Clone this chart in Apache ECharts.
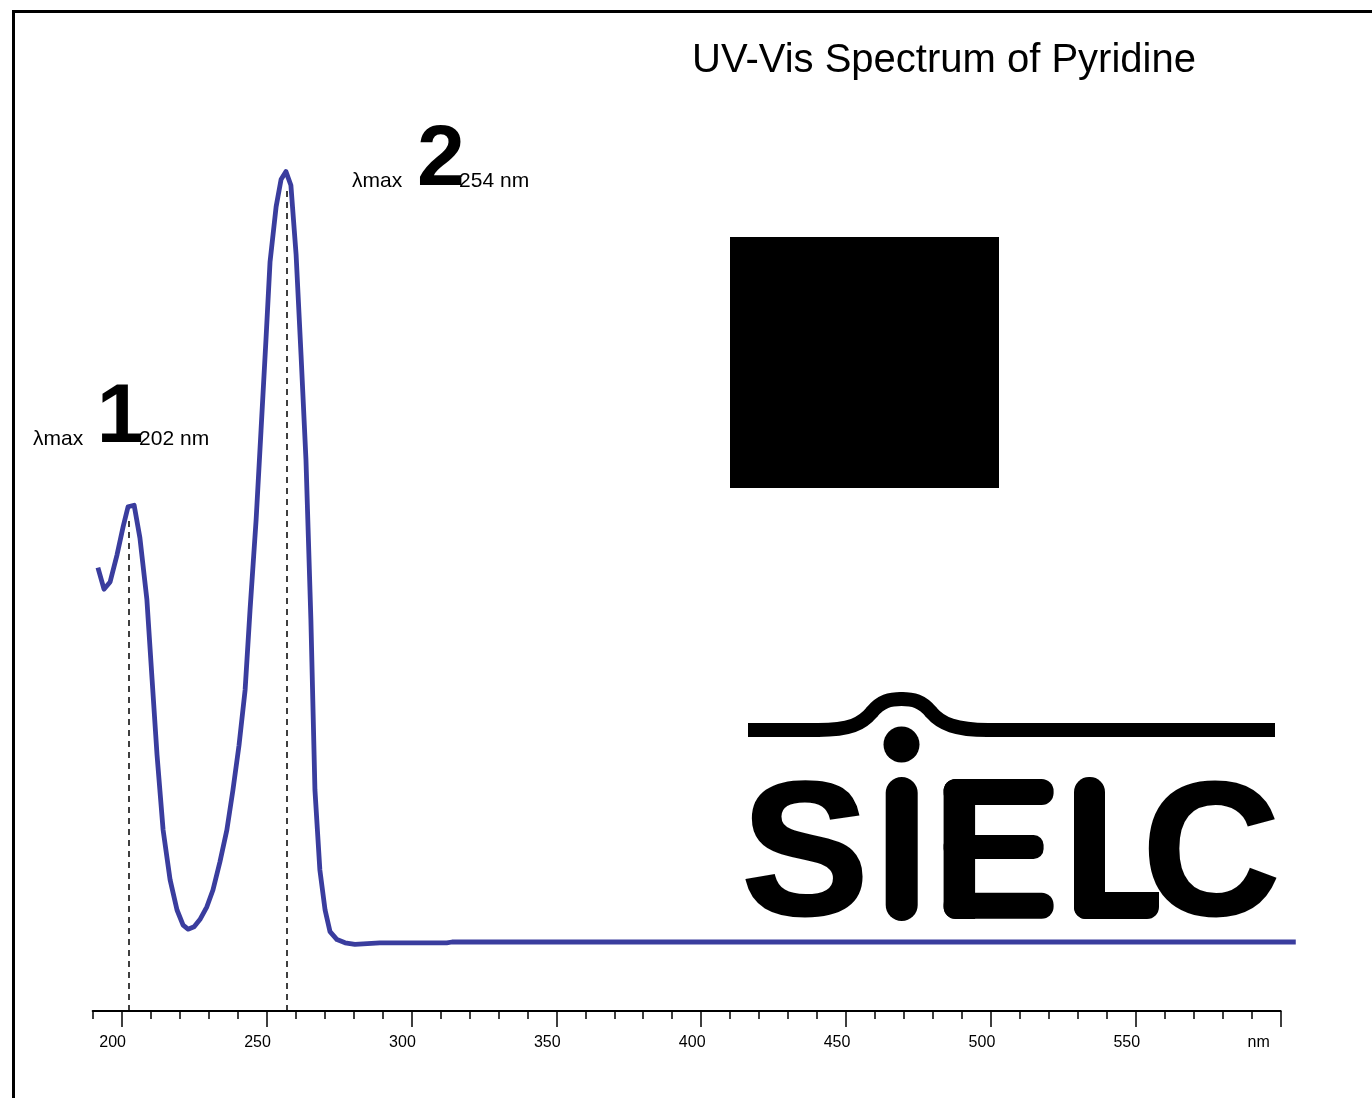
<!DOCTYPE html>
<html>
<head>
<meta charset="utf-8">
<script src="https://cdn.jsdelivr.net/npm/echarts@6/dist/echarts.min.js"></script>
<style>
html,body{margin:0;padding:0;background:#fff;}
#chart{width:1372px;height:1098px;}
</style>
</head>
<body>
<div id="chart"></div>
<script>
// ---- data ----
const titleText = 'UV-Vis Spectrum of Pyridine';
const wavelengths = [191.8,193.9,196.0,198.4,200.5,202.2,204.3,206.3,208.7,210.5,212.2,214.3,216.7,219.1,221.2,222.9,225.0,227.0,229.4,231.5,233.9,236.3,238.4,240.5,242.6,244.3,246.4,248.1,249.8,251.2,253.3,255.0,256.7,258.4,260.2,261.9,263.6,265.3,266.7,268.4,270.2,271.9,274.3,277.1,280.5,289.1,312.2,314.0,605.2];
const absorbance  = [0.468,0.441,0.450,0.484,0.519,0.544,0.546,0.505,0.428,0.328,0.234,0.140,0.078,0.040,0.021,0.016,0.019,0.028,0.044,0.065,0.100,0.140,0.190,0.246,0.315,0.415,0.528,0.640,0.753,0.850,0.919,0.953,0.963,0.946,0.859,0.734,0.603,0.403,0.190,0.090,0.040,0.013,0.003,-0.001,-0.003,-0.001,-0.001,0.000,0.000];
const xTickValues = [200,250,300,350,400,450,500,550,600];
const xTickLabels = ['200','250','300','350','400','450','500','550','nm'];
const peakWavelengths = [202.6, 256.9];
const peakTops = [0.53, 0.94];
const peakNames = ['1','2'];
const peakLabels = ['= 202 nm','= 254 nm'];

const FONT = '"Liberation Sans", Arial, Helvetica, sans-serif';
const X_MIN = 190, X_MAX = 600;
const Y_MIN = -0.08625, Y_MAX = 1.0;
// the spectrum trace runs a little past the axis end, so it sits on a second,
// wider grid with the same scale (px per nm)
const PX_PER_NM = (1280.7 - 92.7) / (X_MAX - X_MIN);
const TRACE_MAX = wavelengths[wavelengths.length - 1];

const chart = echarts.init(document.getElementById('chart'), null, {renderer:'canvas'});

const seriesData = wavelengths.map((w,i)=>[w, absorbance[i]]);
const markLines = peakWavelengths.map((w,i)=>[{coord:[w, Y_MIN]},{coord:[w, peakTops[i]]}]);

function txt(x,y,t,font,align){
  return {type:'text', x:x, y:y, style:{text:t, font:font, fill:'#000', textAlign:align||'left', textVerticalAlign:'middle'}};
}
const logoStroke = {fill:'none', stroke:'#000', lineWidth:14};
const logoCurve = {fill:'none', stroke:'#000', lineWidth:14, lineCap:'round'};

const option = {
  backgroundColor:'#ffffff',
  animation:false,
  title:{
    text:titleText, left:944, top:41, textAlign:'center', padding:0,
    textStyle:{fontFamily:FONT, fontSize:40, fontWeight:'normal', color:'#000', lineHeight:40}
  },
  grid:[
    {left:92.7, right:91.3, top:142, bottom:87, containLabel:false},
    {left:92.7, right:1372 - (1280.7 + (TRACE_MAX - X_MAX) * PX_PER_NM), top:142, bottom:87, containLabel:false}
  ],
  xAxis:[{
    type:'value', min:X_MIN, max:X_MAX, position:'bottom', gridIndex:0,
    splitLine:{show:false},
    axisLine:{show:true, onZero:false, lineStyle:{color:'#000', width:2}},
    axisTick:{show:true, customValues:xTickValues, length:16, lineStyle:{color:'#000', width:1.5}},
    axisLabel:{
      show:true, customValues:xTickValues, margin:24, color:'#000', fontFamily:FONT, fontSize:16,
      formatter:function(v){ const i = xTickValues.indexOf(v); const t = i>=0 ? xTickLabels[i] : ''; return v===600 ? '{u|'+t+'}' : '{n|'+t+'}'; },
      rich:{ n:{fontFamily:FONT, fontSize:16, color:'#000', padding:[0,18,0,0]}, u:{fontFamily:FONT, fontSize:16, color:'#000', padding:[0,44,0,0]} }
    }
  },{
    type:'value', min:X_MIN, max:X_MAX, interval:10, position:'bottom', gridIndex:0,
    splitLine:{show:false},
    axisLine:{show:false, onZero:false},
    axisTick:{show:true, length:8, lineStyle:{color:'#000', width:1.5}},
    axisLabel:{show:false}
  },{
    type:'value', min:X_MIN, max:TRACE_MAX, gridIndex:1, show:false, splitLine:{show:false}
  }],
  yAxis:[
    {type:'value', min:Y_MIN, max:Y_MAX, show:false, splitLine:{show:false}, gridIndex:0},
    {type:'value', min:Y_MIN, max:Y_MAX, show:false, splitLine:{show:false}, gridIndex:1}
  ],
  series:[{
    type:'line', data:seriesData, xAxisIndex:2, yAxisIndex:1, showSymbol:false, symbol:'none', clip:false,
    lineStyle:{color:'#3a3d9e', width:4.8, join:'round'},
    z:3,
    markLine:{
      silent:true, symbol:['none','none'], label:{show:false},
      lineStyle:{color:'#000', width:1.5, type:[6,5]},
      data:markLines, z:2
    }
  }],
  graphic:[
    {type:'rect', shape:{x:13.5, y:11.5, width:1400, height:1200}, style:{fill:'none', stroke:'#000', lineWidth:3}, z:10},
    {type:'rect', shape:{x:730, y:237, width:269, height:251}, style:{fill:'#000'}},
    // peak annotations
    txt(33, 439, 'λmax', '21px '+FONT),
    txt(121, 439, peakLabels[0], '21px '+FONT),
    txt(120, 419, peakNames[0], 'bold 84px '+FONT, 'center'),
    txt(352, 181, 'λmax', '21px '+FONT),
    txt(441, 181, peakLabels[1], '21px '+FONT),
    txt(441, 161, peakNames[1], 'bold 86px '+FONT, 'center'),
    // SIELC logo
    {type:'line', shape:{x1:748, y1:730, x2:820, y2:730}, style:logoStroke},
    {type:'bezierCurve', shape:{x1:818, y1:730, cpx1:850, cpy1:730, cpx2:862, cpy2:724, x2:872, y2:712}, style:logoCurve},
    {type:'bezierCurve', shape:{x1:872, y1:712, cpx1:881, cpy1:701, cpx2:890, cpy2:699, x2:901.5, y2:699}, style:logoCurve},
    {type:'bezierCurve', shape:{x1:901.5, y1:699, cpx1:913, cpy1:699, cpx2:922, cpy2:701, x2:931, y2:712}, style:logoCurve},
    {type:'bezierCurve', shape:{x1:931, y1:712, cpx1:941, cpy1:724, cpx2:956, cpy2:730, x2:988, y2:730}, style:logoCurve},
    {type:'line', shape:{x1:985, y1:730, x2:1275, y2:730}, style:logoStroke},
    {type:'circle', shape:{cx:901.5, cy:744.5, r:18}, style:{fill:'#000'}},
    {type:'rect', shape:{x:885.7, y:777, width:32, height:144, r:16}, style:{fill:'#000'}},
    {type:'text', x:805, y:862, style:{text:'S', font:'bold 190px '+FONT, fill:'#000', stroke:'#000', lineWidth:3, lineJoin:'round', textAlign:'center', textVerticalAlign:'middle'}},
    {type:'rect', shape:{x:943.6, y:779, width:31.5, height:140, r:[12,0,0,12]}, style:{fill:'#000'}},
    {type:'rect', shape:{x:943.6, y:779, width:110, height:26, r:12}, style:{fill:'#000'}},
    {type:'rect', shape:{x:943.6, y:835, width:100, height:24, r:10}, style:{fill:'#000'}},
    {type:'rect', shape:{x:943.6, y:892.7, width:110, height:26, r:12}, style:{fill:'#000'}},
    {type:'rect', shape:{x:1074, y:777, width:31, height:142, r:[15,15,0,12]}, style:{fill:'#000'}},
    {type:'rect', shape:{x:1074, y:892, width:85, height:27, r:[0,0,12,12]}, style:{fill:'#000'}},
    {type:'text', x:1211, y:862, style:{text:'C', font:'bold 190px '+FONT, fill:'#000', stroke:'#000', lineWidth:3, lineJoin:'round', textAlign:'center', textVerticalAlign:'middle'}}
  ]
};
chart.setOption(option);
</script>
</body>
</html>
